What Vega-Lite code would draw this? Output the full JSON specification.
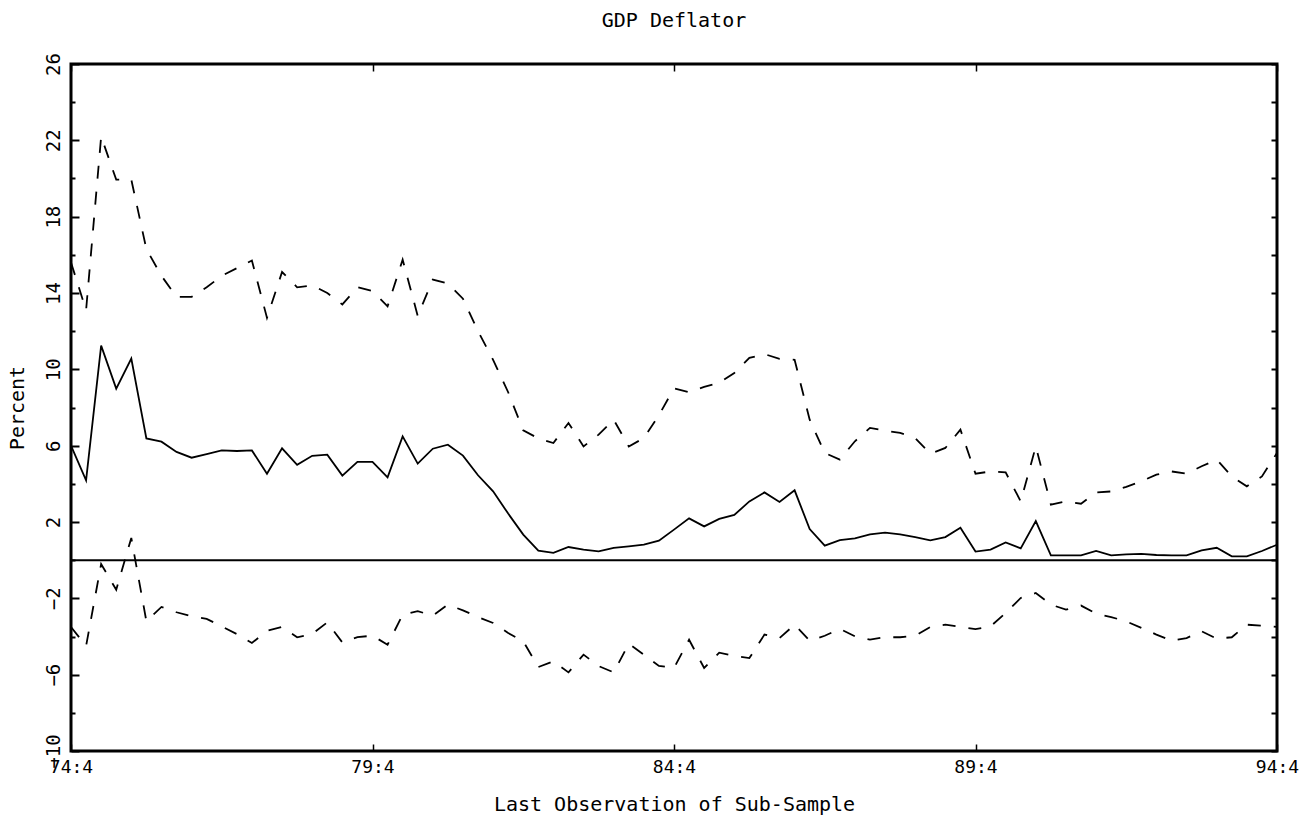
{
  "$schema": "https://vega.github.io/schema/vega-lite/v6.json",
  "width": 1206,
  "height": 687,
  "autosize": "none",
  "padding": {"left": 71, "top": 64, "right": 22, "bottom": 70},
  "background": "white",
  "title": {"text": "GDP Deflator", "font": "DejaVu Sans Mono", "fontSize": 20, "fontWeight": "normal", "color": "black", "anchor": "middle", "offset": 22},
  "config": {
    "view": {"stroke": "black", "strokeWidth": 3},
    "font": "DejaVu Sans Mono"
  },
  "data": {"values": [
    {"q":0,"mid":6.0,"upper":15.6,"lower":-3.5},
    {"q":1,"mid":4.18,"upper":13.1,"lower":-4.5},
    {"q":2,"mid":11.24,"upper":22.2,"lower":-0.2},
    {"q":3,"mid":8.99,"upper":19.94,"lower":-1.55},
    {"q":4,"mid":10.56,"upper":19.94,"lower":1.16},
    {"q":5,"mid":6.38,"upper":16.3,"lower":-3.2},
    {"q":6,"mid":6.21,"upper":14.9,"lower":-2.45},
    {"q":7,"mid":5.67,"upper":13.8,"lower":-2.73},
    {"q":8,"mid":5.37,"upper":13.8,"lower":-2.94},
    {"q":9,"mid":5.56,"upper":14.3,"lower":-3.08},
    {"q":10,"mid":5.75,"upper":14.9,"lower":-3.47},
    {"q":11,"mid":5.72,"upper":15.3,"lower":-3.87},
    {"q":12,"mid":5.75,"upper":15.7,"lower":-4.34},
    {"q":13,"mid":4.53,"upper":12.7,"lower":-3.7},
    {"q":14,"mid":5.86,"upper":15.1,"lower":-3.5},
    {"q":15,"mid":5.0,"upper":14.3,"lower":-4.04},
    {"q":16,"mid":5.47,"upper":14.4,"lower":-3.87},
    {"q":17,"mid":5.53,"upper":14.0,"lower":-3.26},
    {"q":18,"mid":4.43,"upper":13.4,"lower":-4.31},
    {"q":19,"mid":5.15,"upper":14.3,"lower":-4.03},
    {"q":20,"mid":5.15,"upper":14.1,"lower":-3.96},
    {"q":21,"mid":4.34,"upper":13.3,"lower":-4.43},
    {"q":22,"mid":6.49,"upper":15.75,"lower":-2.86},
    {"q":23,"mid":5.06,"upper":12.8,"lower":-2.67},
    {"q":24,"mid":5.84,"upper":14.7,"lower":-2.91},
    {"q":25,"mid":6.05,"upper":14.5,"lower":-2.33},
    {"q":26,"mid":5.48,"upper":13.7,"lower":-2.63},
    {"q":27,"mid":4.45,"upper":12.0,"lower":-2.98},
    {"q":28,"mid":3.61,"upper":10.5,"lower":-3.29},
    {"q":29,"mid":2.44,"upper":8.8,"lower":-3.82},
    {"q":30,"mid":1.34,"upper":6.8,"lower":-4.25},
    {"q":31,"mid":0.5,"upper":6.38,"lower":-5.6},
    {"q":32,"mid":0.38,"upper":6.14,"lower":-5.3},
    {"q":33,"mid":0.69,"upper":7.19,"lower":-5.88},
    {"q":34,"mid":0.55,"upper":5.96,"lower":-4.95},
    {"q":35,"mid":0.46,"upper":6.58,"lower":-5.55},
    {"q":36,"mid":0.64,"upper":7.36,"lower":-5.88},
    {"q":37,"mid":0.72,"upper":5.96,"lower":-4.38},
    {"q":38,"mid":0.81,"upper":6.4,"lower":-4.95},
    {"q":39,"mid":1.02,"upper":7.6,"lower":-5.54},
    {"q":40,"mid":1.6,"upper":9.0,"lower":-5.65},
    {"q":41,"mid":2.19,"upper":8.8,"lower":-4.17},
    {"q":42,"mid":1.77,"upper":9.08,"lower":-5.65},
    {"q":43,"mid":2.16,"upper":9.29,"lower":-4.85},
    {"q":44,"mid":2.37,"upper":9.81,"lower":-5.02},
    {"q":45,"mid":3.08,"upper":10.6,"lower":-5.13},
    {"q":46,"mid":3.55,"upper":10.8,"lower":-3.9},
    {"q":47,"mid":3.05,"upper":10.55,"lower":-4.08},
    {"q":48,"mid":3.66,"upper":10.5,"lower":-3.38},
    {"q":49,"mid":1.63,"upper":7.36,"lower":-4.22},
    {"q":50,"mid":0.76,"upper":5.62,"lower":-3.96},
    {"q":51,"mid":1.05,"upper":5.27,"lower":-3.6},
    {"q":52,"mid":1.14,"upper":6.23,"lower":-3.99},
    {"q":53,"mid":1.35,"upper":6.93,"lower":-4.16},
    {"q":54,"mid":1.44,"upper":6.79,"lower":-4.04},
    {"q":55,"mid":1.35,"upper":6.67,"lower":-4.04},
    {"q":56,"mid":1.21,"upper":6.4,"lower":-3.96},
    {"q":57,"mid":1.04,"upper":5.58,"lower":-3.5},
    {"q":58,"mid":1.21,"upper":5.88,"lower":-3.38},
    {"q":59,"mid":1.7,"upper":6.84,"lower":-3.5},
    {"q":60,"mid":0.45,"upper":4.53,"lower":-3.61},
    {"q":61,"mid":0.55,"upper":4.65,"lower":-3.47},
    {"q":62,"mid":0.93,"upper":4.6,"lower":-2.77},
    {"q":63,"mid":0.62,"upper":3.08,"lower":-1.98},
    {"q":64,"mid":2.05,"upper":5.96,"lower":-1.72},
    {"q":65,"mid":0.25,"upper":2.91,"lower":-2.33},
    {"q":66,"mid":0.25,"upper":3.08,"lower":-2.59},
    {"q":67,"mid":0.25,"upper":2.96,"lower":-2.38},
    {"q":68,"mid":0.48,"upper":3.55,"lower":-2.8},
    {"q":69,"mid":0.25,"upper":3.6,"lower":-2.98},
    {"q":70,"mid":0.3,"upper":3.84,"lower":-3.21},
    {"q":71,"mid":0.33,"upper":4.13,"lower":-3.55},
    {"q":72,"mid":0.27,"upper":4.48,"lower":-3.9},
    {"q":73,"mid":0.25,"upper":4.65,"lower":-4.22},
    {"q":74,"mid":0.25,"upper":4.53,"lower":-4.08},
    {"q":75,"mid":0.51,"upper":4.92,"lower":-3.73},
    {"q":76,"mid":0.65,"upper":5.27,"lower":-4.11},
    {"q":77,"mid":0.2,"upper":4.39,"lower":-4.04},
    {"q":78,"mid":0.2,"upper":3.87,"lower":-3.38},
    {"q":79,"mid":0.48,"upper":4.39,"lower":-3.43},
    {"q":80,"mid":0.81,"upper":5.62,"lower":-3.5}
  ]},
  "layer": [
    {
      "data": {"values": [{"z": 0}]},
      "mark": {"type": "rule", "color": "black", "strokeWidth": 2},
      "encoding": {
        "y": {"field": "z", "type": "quantitative", "scale": {"domain": [-10, 26], "nice": false, "zero": false}, "axis": null}
      }
    },
    {
      "mark": {"type": "line", "color": "black", "strokeWidth": 1.8},
      "encoding": {
        "x": {"field": "q", "type": "quantitative", "scale": {"domain": [0, 80], "nice": false, "zero": false},
          "axis": {"orient": "bottom", "values": [0, 20, 40, 60, 80], "labelExpr": "(74 + datum.value / 4) + ':4'",
            "domain": false, "grid": false, "tickSize": -7, "tickWidth": 1.5, "tickColor": "black",
            "labelFont": "DejaVu Sans Mono", "labelFontSize": 18, "labelColor": "black", "labelPadding": 14, "labelFlush": false, "labelOverlap": false, "labelBound": false,
            "title": "Last Observation of Sub-Sample", "titleFont": "DejaVu Sans Mono", "titleFontSize": 20, "titleFontWeight": "normal", "titleColor": "black", "titlePadding": 18}},
        "y": {"field": "mid", "type": "quantitative", "scale": {"domain": [-10, 26], "nice": false, "zero": false},
          "axis": {"orient": "left", "values": [-10,-8,-6,-4,-2,0,2,4,6,8,10,12,14,16,18,20,22,24,26],
            "labelExpr": "(datum.value + 10) % 4 === 0 ? datum.label : ''",
            "domain": false, "grid": false,
            "tickSize": {"condition": {"test": "(datum.value + 10) % 4 === 0", "value": -8}, "value": -4},
            "tickWidth": 2, "tickColor": "black",
            "labelFont": "DejaVu Sans Mono", "labelFontSize": 19, "labelColor": "black", "labelAngle": -90, "labelAlign": "center", "labelBaseline": "bottom", "labelPadding": 16, "labelFlush": false, "labelOverlap": false, "labelBound": false,
            "title": "Percent", "titleFont": "DejaVu Sans Mono", "titleFontSize": 20, "titleFontWeight": "normal", "titleColor": "black", "titlePadding": 13}}
      }
    },
    {
      "mark": {"type": "line", "color": "black", "strokeWidth": 1.8, "strokeDash": [13, 13]},
      "encoding": {
        "x": {"field": "q", "type": "quantitative", "scale": {"domain": [0, 80], "nice": false, "zero": false},
          "axis": {"orient": "top", "values": [0, 20, 40, 60, 80], "labels": false, "domain": false, "grid": false, "tickSize": -7, "tickWidth": 1.5, "tickColor": "black", "title": null}},
        "y": {"field": "upper", "type": "quantitative", "scale": {"domain": [-10, 26], "nice": false, "zero": false},
          "axis": {"orient": "right", "values": [-10,-8,-6,-4,-2,0,2,4,6,8,10,12,14,16,18,20,22,24,26], "labels": false, "domain": false, "grid": false, "tickSize": -6, "tickWidth": 2, "tickColor": "black", "title": null}}
      }
    },
    {
      "mark": {"type": "line", "color": "black", "strokeWidth": 1.8, "strokeDash": [13, 13]},
      "encoding": {
        "x": {"field": "q", "type": "quantitative", "scale": {"domain": [0, 80], "nice": false, "zero": false}, "axis": null},
        "y": {"field": "lower", "type": "quantitative", "scale": {"domain": [-10, 26], "nice": false, "zero": false}, "axis": null}
      }
    }
  ],
  "resolve": {"axis": {"x": "independent", "y": "independent"}}
}
